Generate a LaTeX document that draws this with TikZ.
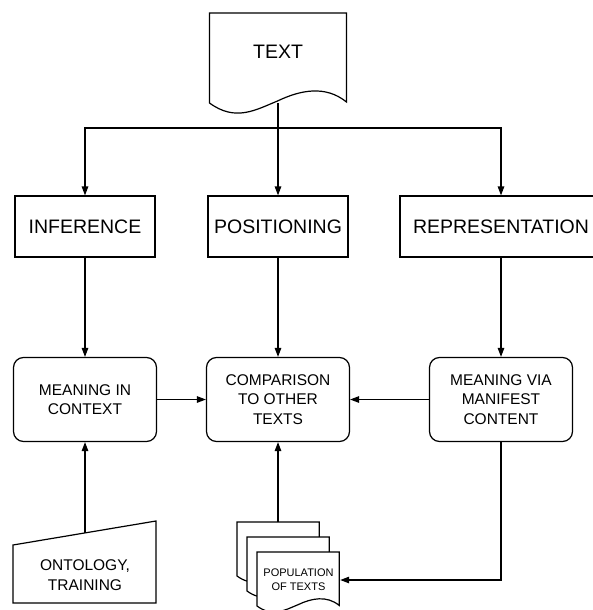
\documentclass[tikz,border=0pt]{standalone}
\usepackage{fontspec}
\setmainfont{Liberation Sans}
\usetikzlibrary{arrows.meta}
\tikzset{
  flin/.style={line width=1.2pt},
  sblk/.style={rectangle, draw, flin, align=center, font=\fontsize{19.5}{22}\selectfont,
               minimum width=140pt, minimum height=61pt, inner sep=0pt},
  rblk/.style={rectangle, rounded corners=10pt, draw, flin, align=center, font=\fontsize{15.5}{19.5}\selectfont,
               minimum width=143pt, minimum height=84pt, inner sep=0pt},
  farr/.style={-{Triangle[length=9pt,width=6.5pt]}, flin},
  docpage/.pic={\draw[flin, fill=white] (0,0) -- (137,0) -- (137,89) .. controls (116,72) and (91,77) .. (68,88)
                .. controls (46,97) and (26,109) .. (0,90) -- cycle;},
}

\begin{document}
\begin{tikzpicture}[x=1pt, y=-1pt]
        \useasboundingbox (0,0) rectangle (593,610);
        \clip (0,0) rectangle (593,610);
        % source document
        \pic at (209.5,13) {docpage};
        \node[font=\fontsize{19.5}{22}\selectfont] (text) at (278,52) {TEXT};
        \coordinate (text-b) at (278,103);
        \coordinate (split) at (278,128);
        % three readings
        \node[sblk] (infer) at (85,226.5) {INFERENCE};
        \node[sblk] (posit) at (278,226.5) {POSITIONING};
        \node[sblk, minimum width=202pt] (repr) at (501,226.5) {REPRESENTATION};
        \node[rblk] (mctx) at (85,399.5) {MEANING IN\\CONTEXT};
        \node[rblk] (comp) at (278,399.5) {COMPARISON\\TO OTHER\\TEXTS};
        \node[rblk] (mvia) at (501,399.5) {MEANING VIA\\MANIFEST\\CONTENT};
        % inputs at the bottom
        \draw[flin] (13,545) -- (156,521) -- (156,603) -- (13,603) -- cycle;
        \node[font=\fontsize{15.5}{19.5}\selectfont, align=center] (onto) at (85,575) {ONTOLOGY,\\TRAINING};
        \coordinate (onto-t) at (85,533);
        \pic[scale=0.6] at (237,522) {docpage};
        \pic[scale=0.6] at (247,537) {docpage};
        \pic[scale=0.6] at (257,552) {docpage};
        \node[font=\fontsize{11}{14}\selectfont, align=center, minimum width=83pt, inner sep=0pt] (pop) at (298.5,580) {POPULATION\\OF TEXTS};
        \coordinate (pop-t) at (278,522);
        % connectors
        \draw[flin] (text-b) -- (split);
        \draw[farr] (split) -- (posit);
        \draw[farr] (split) -| (infer);
        \draw[farr] (split) -| (repr);
        \draw[farr] (infer) -- (mctx);\draw[farr] (posit) -- (comp);\draw[farr] (repr) -- (mvia);
        \draw[farr] (mctx) -- (comp);\draw[farr] (mvia) -- (comp);
        \draw[farr] (onto-t) -- (mctx);
        \draw[farr] (pop-t) -- (comp);
        \draw[farr] (mvia) |- (pop.east);
    \end{tikzpicture}
\end{document}
